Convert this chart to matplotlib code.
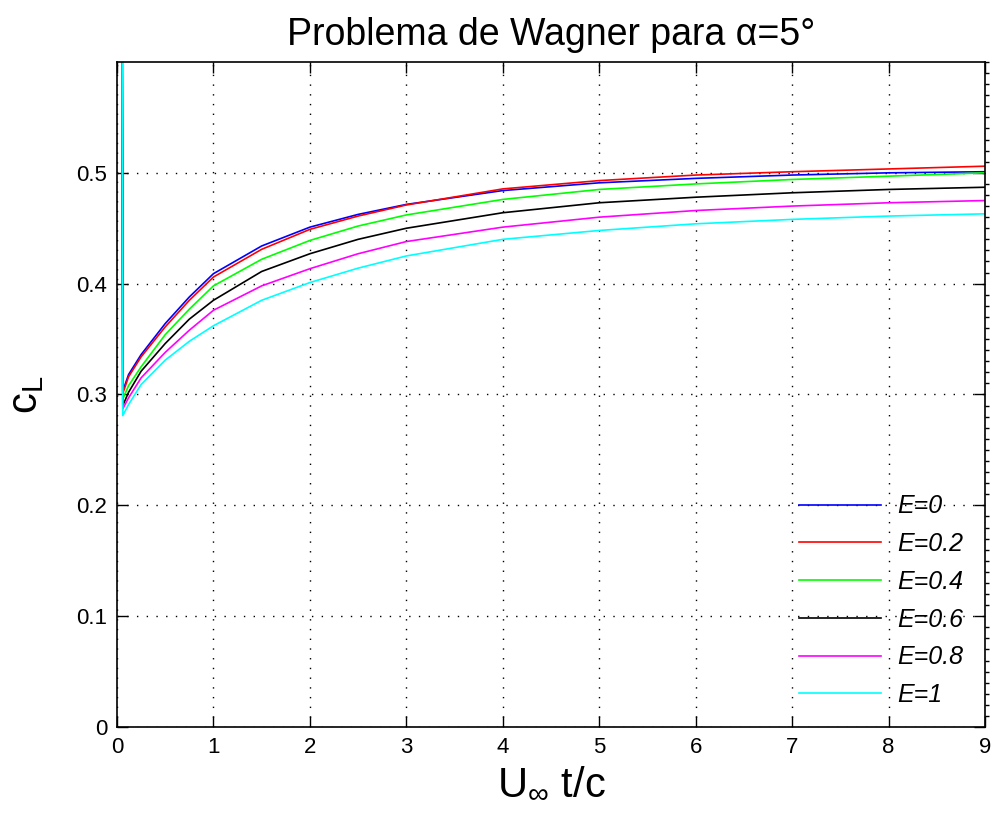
import matplotlib
matplotlib.use("Agg")
import matplotlib.pyplot as plt
from matplotlib.ticker import MultipleLocator

plt.rcParams['font.family'] = ['Liberation Sans', 'DejaVu Sans']
plt.rcParams['mathtext.fontset'] = 'custom'
plt.rcParams['mathtext.rm'] = 'Liberation Sans'
plt.rcParams['mathtext.it'] = 'Liberation Sans:italic'

# Data
t = [0.047, 0.06, 0.12, 0.25, 0.5, 0.75, 1.0, 1.5, 2.0, 2.5, 3.0, 4.0, 5.0, 6.0, 7.0, 8.0, 9.0]
cl_E0  = [1.0, 0.303, 0.318, 0.336, 0.364, 0.388, 0.409, 0.434, 0.451, 0.4625, 0.4715, 0.484, 0.491, 0.495, 0.498, 0.500, 0.501]
cl_E02 = [1.0, 0.301, 0.316, 0.334, 0.361, 0.385, 0.406, 0.431, 0.449, 0.461, 0.471, 0.4855, 0.493, 0.498, 0.501, 0.5035, 0.506]
cl_E04 = [1.0, 0.296, 0.308, 0.325, 0.354, 0.377, 0.398, 0.422, 0.439, 0.452, 0.462, 0.476, 0.485, 0.490, 0.494, 0.497, 0.500]
cl_E06 = [1.0, 0.290, 0.302, 0.321, 0.346, 0.368, 0.385, 0.411, 0.427, 0.440, 0.450, 0.464, 0.473, 0.478, 0.482, 0.485, 0.487]
cl_E08 = [1.0, 0.287, 0.297, 0.315, 0.338, 0.358, 0.376, 0.398, 0.4135, 0.427, 0.438, 0.451, 0.460, 0.466, 0.470, 0.473, 0.475]
cl_E1  = [1.0, 0.281, 0.291, 0.309, 0.331, 0.348, 0.362, 0.385, 0.401, 0.414, 0.425, 0.440, 0.448, 0.454, 0.458, 0.461, 0.463]

series = [cl_E0, cl_E02, cl_E04, cl_E06, cl_E08, cl_E1]
labels = ['E=0', 'E=0.2', 'E=0.4', 'E=0.6', 'E=0.8', 'E=1']
colors = [(0, 0, 1), (1, 0, 0), (0, 1, 0), (0, 0, 0), (1, 0, 1), (0, 1, 1)]

xticks = [0, 1, 2, 3, 4, 5, 6, 7, 8, 9]
yticks = [0, 0.1, 0.2, 0.3, 0.4, 0.5]
ytick_labels = ['0', '0.1', '0.2', '0.3', '0.4', '0.5']

fig = plt.figure(figsize=(9.94, 8.25), dpi=100)
ax = fig.add_axes([117/994, 1 - 727/825, (985 - 117)/994, (727 - 62)/825])

for y, lab, c in zip(series, labels, colors):
    ax.plot(t, y, color=c, lw=1.2, label=lab)

ax.set_xlim(0, 9)
ax.set_ylim(0, 0.6)
ax.set_xticks(xticks)
ax.set_yticks(yticks)
ax.set_yticklabels(ytick_labels)
ax.grid(True, color='k', linestyle=(0, (1, 6)), linewidth=1.0)
ax.tick_params(direction='in', length=8, width=1, top=True, right=True,
               labelsize=16, pad=7)
ax.yaxis.set_minor_locator(MultipleLocator(0.01))
ax.tick_params(which='minor', axis='y', left=False, right=True,
               direction='out', length=3, width=1)
for s in ax.spines.values():
    s.set_linewidth(1.2)

ax.set_title('Problema de Wagner para α=5°', fontsize=27, pad=12)
ax.set_xlabel(r'U$_\infty$ t/c', fontsize=30, labelpad=4)
ax.set_ylabel(r'c$_\mathrm{L}$', fontsize=30, labelpad=22)

leg = ax.legend(loc='lower right', bbox_to_anchor=(0.9747, 0.03), frameon=False,
                fontsize=18, handlelength=3.3, handletextpad=0.64,
                labelspacing=0.55, borderaxespad=0.0, borderpad=0.0)
for txt in leg.get_texts():
    txt.set_fontstyle('italic')

fig.savefig('out.png', dpi=100, facecolor='white')
